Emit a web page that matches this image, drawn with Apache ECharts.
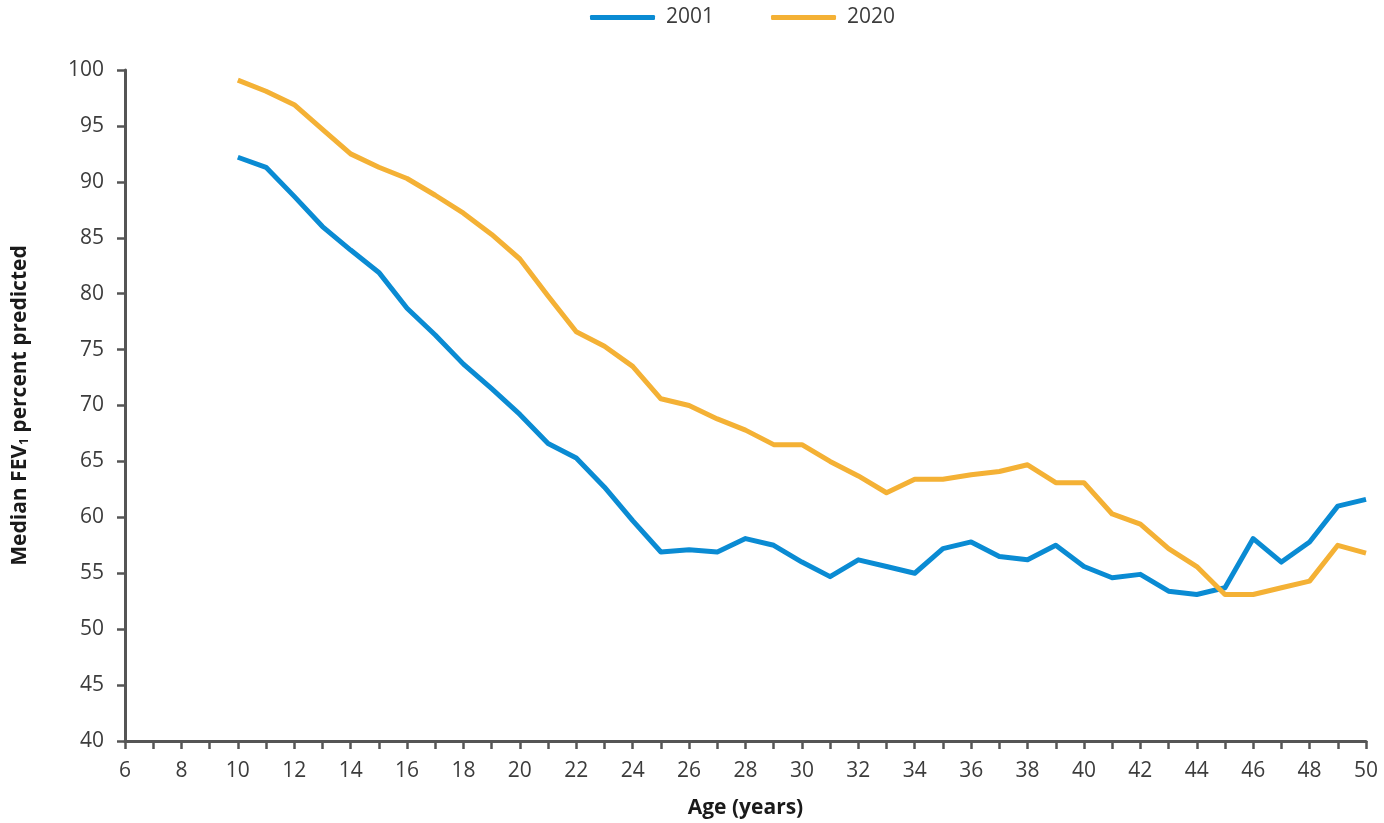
<!DOCTYPE html>
<html>
<head>
<meta charset="utf-8">
<script src="https://cdn.jsdelivr.net/npm/echarts@6/dist/echarts.min.js"></script>
<style>html,body{margin:0;padding:0;background:#fff;}#c{width:1384px;height:823px;}</style>
</head>
<body>
<div id="c"></div>
<script>
const ages = [10,11,12,13,14,15,16,17,18,19,20,21,22,23,24,25,26,27,28,29,30,31,32,33,34,35,36,37,38,39,40,41,42,43,44,45,46,47,48,49,50];
const fev2001 = [92.2,91.3,88.7,86.0,83.9,81.9,78.7,76.3,73.7,71.5,69.2,66.6,65.3,62.7,59.7,56.9,57.1,56.9,58.1,57.5,56.0,54.7,56.2,55.6,55.0,57.2,57.8,56.5,56.2,57.5,55.6,54.6,54.9,53.4,53.1,53.7,58.1,56.0,57.8,61.0,61.6];
const fev2020 = [99.1,98.1,96.9,94.7,92.5,91.3,90.3,88.8,87.2,85.3,83.1,79.8,76.6,75.3,73.5,70.6,70.0,68.8,67.8,66.5,66.5,65.0,63.7,62.2,63.4,63.4,63.8,64.1,64.7,63.1,63.1,60.3,59.4,57.2,55.6,53.1,53.1,53.7,54.3,57.5,56.8];
const seriesNames = ['2001','2020'];
const colors = ['#0a8bd3','#f4b135'];

const chart = echarts.init(document.getElementById('c'));
const font = '"Open Sans", "Noto Sans", sans-serif';
chart.setOption({
  animation: false,
  textStyle: {fontFamily: font},
  legend: {
    top: 2, left: 585,
    itemWidth: 65, itemHeight: 5, itemGap: 57,
    icon: 'roundRect',
    textStyle: {fontSize: 21, color: '#3c3c3c', fontFamily: font, padding: [0,0,0,6]},
    data: seriesNames
  },
  grid: {left: 125, right: 18, top: 70, bottom: 82, containLabel: false, outerBoundsMode: 'none'},
  xAxis: {
    type: 'value', min: 6, max: 50, interval: 1,
    name: 'Age (years)', nameLocation: 'middle', nameGap: 57,
    nameTextStyle: {fontSize: 21, fontWeight: 'bold', color: '#1a1a1a', fontFamily: font},
    axisLine: {lineStyle: {color: '#555', width: 3}},
    axisTick: {show: true, length: 8, lineStyle: {color: '#555', width: 2.5}},
    axisLabel: {fontSize: 21, color: '#3c3c3c', margin: 20, fontFamily: font,
      formatter: v => (v % 2 === 0 ? String(v) : '')},
    splitLine: {show: false}
  },
  yAxis: {
    type: 'value', min: 40, max: 100, interval: 5,
    name: '{t|Median FEV}{s|1}{t| percent predicted}',
    nameLocation: 'middle', nameGap: 94, nameRotate: 90,
    nameTextStyle: {
      fontFamily: font, color: '#1a1a1a',
      rich: {
        t: {fontSize: 21, fontWeight: 'bold', color: '#1a1a1a', fontFamily: font},
        s: {fontSize: 12, fontWeight: 'bold', color: '#1a1a1a', fontFamily: font, verticalAlign: 'bottom', padding: [9,0,0,0]}
      }
    },
    axisLine: {show: true, lineStyle: {color: '#555', width: 3}},
    axisTick: {show: true, length: 8, lineStyle: {color: '#555', width: 2.5}},
    axisLabel: {fontSize: 21, color: '#3c3c3c', margin: 21, fontFamily: font},
    splitLine: {show: false}
  },
  series: seriesNames.map((n, i) => ({
    name: n, type: 'line', showSymbol: false, symbol: 'none',
    lineStyle: {width: 5, color: colors[i], join: 'round'},
    itemStyle: {color: colors[i]},
    data: ages.map((a, k) => [a, (i === 0 ? fev2001 : fev2020)[k]])
  }))
});
</script>
</body>
</html>
